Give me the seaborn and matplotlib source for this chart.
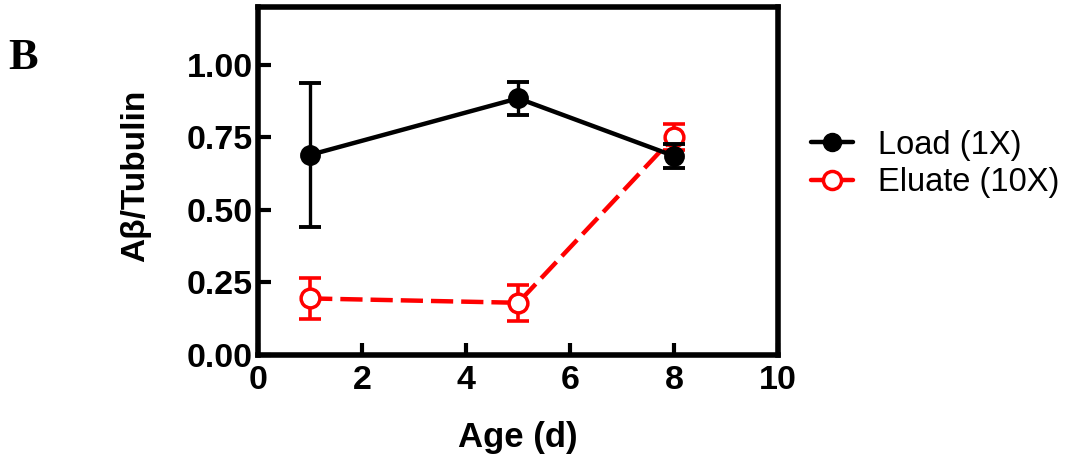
import matplotlib
matplotlib.use("Agg")
import matplotlib.pyplot as plt
import seaborn as sns
import pandas as pd
from matplotlib.lines import Line2D

# ---- data ----
age = [1, 5, 8]
load_mean = [0.690, 0.885, 0.686]
load_err = [0.248, 0.057, 0.042]
eluate_mean = [0.195, 0.180, 0.753]
eluate_err = [0.070, 0.062, 0.045]
series_names = ["Load (1X)", "Eluate (10X)"]
x_ticks = [0, 2, 4, 6, 8, 10]
y_ticks = [0.00, 0.25, 0.50, 0.75, 1.00]

sns.set_theme(style="ticks")
plt.rcParams['font.family'] = ['Liberation Sans', 'DejaVu Sans']
plt.rcParams['text.color'] = 'black'
plt.rcParams['axes.labelcolor'] = 'black'
plt.rcParams['xtick.color'] = 'black'
plt.rcParams['ytick.color'] = 'black'

fig = plt.figure(figsize=(10.71, 4.65), dpi=100)
ax = fig.add_axes([0.241, 0.2366, 0.4855, 0.7484])

df_load = pd.DataFrame({"age": age, "value": load_mean})
df_el = pd.DataFrame({"age": age, "value": eluate_mean})

RED = "#ff0000"

# Eluate (drawn first, under Load)
ax.errorbar(age, eluate_mean, yerr=eluate_err, fmt='none', ecolor=RED,
            elinewidth=2.6, capsize=8, capthick=2.6, zorder=2)
sns.lineplot(data=df_el, x="age", y="value", ax=ax, color=RED, lw=3.2,
             marker='o', markersize=13.5, markerfacecolor='white',
             markeredgecolor=RED, markeredgewidth=2.5, errorbar=None, zorder=3)
ln_el = ax.lines[-1]
ln_el.set_dashes((5, 1.8))

# Load
ax.errorbar(age, load_mean, yerr=load_err, fmt='none', ecolor='black',
            elinewidth=2.4, capsize=8, capthick=2.8, zorder=4)
sns.lineplot(data=df_load, x="age", y="value", ax=ax, color='black', lw=3.2,
             marker='o', markersize=13.5, markerfacecolor='black',
             markeredgecolor='black', markeredgewidth=1.5, errorbar=None, zorder=5)

ax.set_xlim(0, 10)
ax.set_ylim(0, 1.2)
ax.set_xticks(x_ticks)
ax.set_yticks(y_ticks)
ax.set_xticklabels([str(t) for t in x_ticks])
ax.set_yticklabels([f"{t:.2f}" for t in y_ticks])

for s in ax.spines.values():
    s.set_linewidth(4)
    s.set_color('black')

ax.tick_params(axis='both', direction='in', length=9, width=3, colors='black',
               labelcolor='black', labelsize=24.5)
ax.tick_params(axis='x', pad=7)
ax.tick_params(axis='y', pad=4)
for lab in ax.get_xticklabels() + ax.get_yticklabels():
    lab.set_fontweight('bold')

ax.set_xlabel("Age (d)", fontsize=25, fontweight='bold', color='black')
ax.set_ylabel("Aβ/Tubulin", fontsize=24, fontweight='bold', color='black')
ax.xaxis.set_label_coords(0.5, -0.19)
ax.yaxis.set_label_coords(-0.205, 0.515)

handles = [
    Line2D([], [], color='black', lw=3.2, marker='o', markersize=13,
           markerfacecolor='black', markeredgecolor='black'),
    Line2D([], [], color=RED, lw=3.2, marker='o', markersize=13,
           markerfacecolor='white', markeredgecolor=RED, markeredgewidth=2.5),
]
leg = fig.legend(handles, series_names, loc='center left',
                 bbox_to_anchor=(0.757, 0.647), frameon=False, fontsize=23.5,
                 borderpad=0, borderaxespad=0, handlelength=1.3,
                 handletextpad=0.75, labelspacing=0.2)
for t in leg.get_texts():
    t.set_color('black')

fig.text(0.008, 1 - 38 / 465, "B", va='top', ha='left', fontsize=32,
         fontweight='bold', color='black',
         family=['Liberation Serif', 'DejaVu Serif'])

fig.savefig("out.png", dpi=100)
